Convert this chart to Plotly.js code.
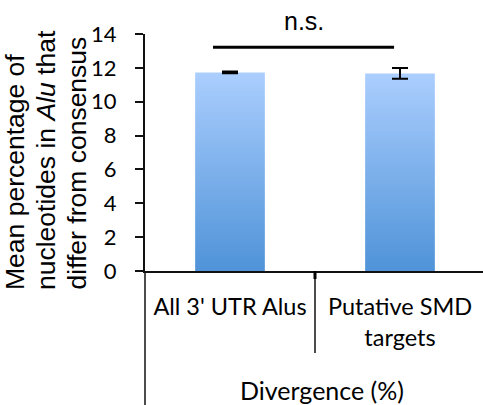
<!DOCTYPE html>
<html>
<head>
<meta charset="utf-8">
<script src="https://cdn.plot.ly/plotly-3.0.1.min.js"></script>
<style>
  html, body { margin: 0; padding: 0; background: #fff; overflow: hidden; }
  #chart { width: 485px; height: 405px; }
</style>
</head>
<body>
<div id="chart"></div>
<script>
// Mean divergence of Alu elements from consensus
const categories = ["All 3' UTR Alus", "Putative SMD<br>targets"];
const meanDivergence = [11.73, 11.67];
const errorValues = [0.05, 0.32];
const yTicks = [0, 2, 4, 6, 8, 10, 12, 14];
const groupLabel = "Divergence (%)";
const significanceLabel = "n.s.";
const yTitleLines = ["Mean percentage of", "nucleotides in <i>Alu</i> that", "differ from consensus"];

const PLOT_L = 145, PLOT_W = 340, PLOT_T = 34, PLOT_H = 237;
const catIdx = categories.map((_, i) => i);
const toPaperY = px => -(px - (PLOT_T + PLOT_H)) / PLOT_H;

const barTrace = {
  type: 'bar',
  x: catIdx,
  y: meanDivergence,
  marker: { color: '#7fb0ec', line: { width: 0 } },
  error_y: { type: 'data', array: errorValues, visible: true, color: '#000', thickness: 2, width: 8 },
  hoverinfo: 'none'
};

const axisLine = '#111';

// Boxes around the category labels (Excel-style multi-level axis)
const shapes = [
  { type: 'line', xref: 'paper', yref: 'paper', x0: 0, x1: 0, y0: 0, y1: toPaperY(405),
    line: { color: axisLine, width: 1.5 } },
  { type: 'line', xref: 'paper', yref: 'paper', x0: 0.5, x1: 0.5, y0: 0, y1: toPaperY(353),
    line: { color: axisLine, width: 1.5 } },
  // boundary tick mark between the two categories
  { type: 'line', xref: 'paper', yref: 'paper', x0: 0.5, x1: 0.5, y0: 0, y1: toPaperY(279),
    line: { color: '#000', width: 3 } },
  // significance bracket
  { type: 'line', xref: 'x', yref: 'y', x0: -0.1, x1: 0.965, y0: 13.22, y1: 13.22,
    line: { color: '#000', width: 3 } }
];

const titleX = [15, 46, 76];
const annotations = yTitleLines.map((t, i) => ({
  text: t, xref: 'paper', yref: 'paper', x: 0, y: 0,
  xshift: titleX[i] - PLOT_L, yshift: -21,
  xanchor: 'center', yanchor: 'bottom', textangle: -90, showarrow: false,
  font: { family: 'Liberation Sans, Arial, sans-serif', size: 26.5, color: '#000' }
}));
annotations.push({
  text: significanceLabel, xref: 'x', yref: 'paper', x: 0.435, y: toPaperY(21.3),
  xanchor: 'center', yanchor: 'middle', showarrow: false,
  font: { family: 'Liberation Sans, Arial, sans-serif', size: 25, color: '#000' }
});
annotations.push({
  text: groupLabel, xref: 'paper', yref: 'paper', x: (322 - PLOT_L) / PLOT_W, y: toPaperY(389.5),
  xanchor: 'center', yanchor: 'middle', showarrow: false,
  font: { family: 'Lato, sans-serif', size: 25, color: '#000' }
});

const layout = {
  width: 485, height: 405,
  margin: { l: PLOT_L, r: 0, t: PLOT_T, b: 405 - PLOT_T - PLOT_H, pad: 0 },
  paper_bgcolor: '#fff', plot_bgcolor: '#fff',
  showlegend: false,
  bargap: 0.59,
  xaxis: {
    type: 'linear', range: [-0.5, 1.5], tickmode: 'array', tickvals: catIdx, ticktext: categories,
    showgrid: false, zeroline: false, showline: true, linecolor: axisLine, linewidth: 2,
    ticks: '', ticklabelstandoff: 14,
    tickfont: { family: 'Lato, sans-serif', size: 23.5, color: '#000' }
  },
  yaxis: {
    range: [0, 14], tickmode: 'array', tickvals: yTicks,
    showgrid: false, zeroline: false, showline: true, linecolor: axisLine, linewidth: 2,
    ticks: 'outside', ticklen: 8, tickwidth: 2, tickcolor: axisLine, ticklabelstandoff: 14,
    tickfont: { family: 'Lato, sans-serif', size: 22, color: '#000' }
  },
  shapes: shapes,
  annotations: annotations
};

Plotly.newPlot('chart', [barTrace], layout, { staticPlot: true }).then(gd => {
  // vertical blue gradient fill on the bars
  const svg = gd.querySelector('.main-svg');
  const ns = 'http://www.w3.org/2000/svg';
  let defs = svg.querySelector('defs');
  if (!defs) { defs = document.createElementNS(ns, 'defs'); svg.insertBefore(defs, svg.firstChild); }
  const grad = document.createElementNS(ns, 'linearGradient');
  grad.setAttribute('id', 'barGradient');
  grad.setAttribute('x1', '0'); grad.setAttribute('y1', '0');
  grad.setAttribute('x2', '0'); grad.setAttribute('y2', '1');
  [['0%', '#abcefe'], ['100%', '#4f93d8']].forEach(([off, col]) => {
    const s = document.createElementNS(ns, 'stop');
    s.setAttribute('offset', off); s.setAttribute('stop-color', col);
    grad.appendChild(s);
  });
  defs.appendChild(grad);
  gd.querySelectorAll('.barlayer .point path').forEach(p => { p.style.fill = 'url(#barGradient)'; });
});
</script>
</body>
</html>
